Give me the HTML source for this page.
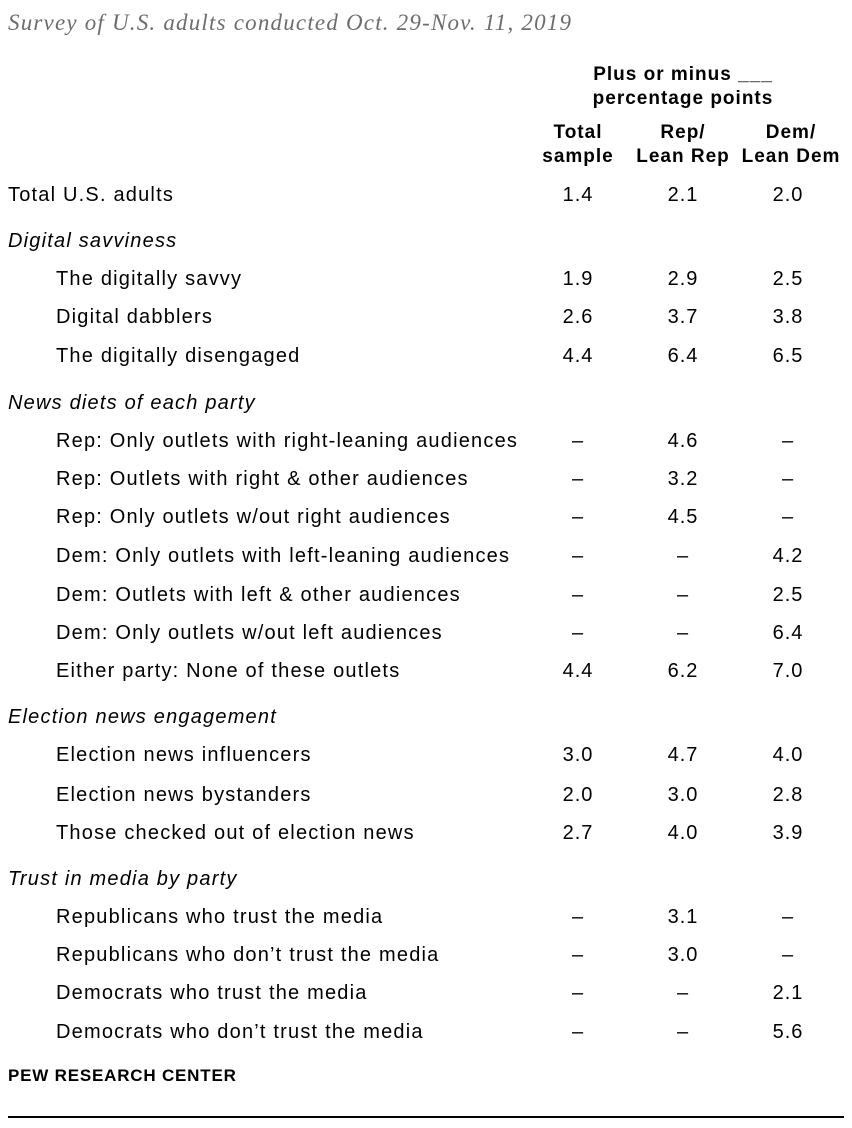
<!DOCTYPE html>
<html><head><meta charset="utf-8"><style>
body{margin:0;width:852px;height:1128px;background:#fff;position:relative;overflow:hidden;font-family:"Liberation Sans",sans-serif;color:#000}
div{position:absolute;white-space:nowrap}
.sub{left:8px;top:10px;font-family:"Liberation Serif",serif;font-style:italic;font-size:23px;letter-spacing:1.2px;color:#6d6d6d}
.h{font-weight:bold;font-size:19px;letter-spacing:1px;text-align:center;line-height:24px}
.r{font-size:20px;letter-spacing:1.2px;line-height:24px}
.c{width:100px;text-align:center;letter-spacing:1px}
.it{font-style:italic}
</style></head><body>
<div class="sub">Survey of U.S. adults conducted Oct. 29-Nov. 11, 2019</div>
<div class="h" style="left:533px;top:63px;width:300px">Plus or minus ___<br>percentage points</div>
<div class="h" style="left:528px;top:121px;width:100px">Total<br>sample</div>
<div class="h" style="left:626px;top:121px;width:114px">Rep/<br>Lean Rep</div>
<div class="h" style="left:734px;top:121px;width:114px">Dem/<br>Lean Dem</div>
<div id="rows"></div>
<div style="left:8px;top:1066px;font-weight:bold;font-size:17px;letter-spacing:0.8px">PEW RESEARCH CENTER</div>
<div style="left:8px;top:1116px;width:836px;height:2px;background:#000"></div>
<script>
const labels=[["Total U.S. adults",0,195],["Digital savviness",2,241],["The digitally savvy",1,279],["Digital dabblers",1,317],["The digitally disengaged",1,356],["News diets of each party",2,403],["Rep: Only outlets with right-leaning audiences",1,441],["Rep: Outlets with right & other audiences",1,479],["Rep: Only outlets w/out right audiences",1,517],["Dem: Only outlets with left-leaning audiences",1,556],["Dem: Outlets with left & other audiences",1,595],["Dem: Only outlets w/out left audiences",1,633],["Either party: None of these outlets",1,671],["Election news engagement",2,717],["Election news influencers",1,755],["Election news bystanders",1,795],["Those checked out of election news",1,833],["Trust in media by party",2,879],["Republicans who trust the media",1,917],["Republicans who don’t trust the media",1,955],["Democrats who trust the media",1,993],["Democrats who don’t trust the media",1,1032]];
const totalVals=["1.4",null,"1.9","2.6","4.4",null,"–","–","–","–","–","–","4.4",null,"3.0","2.0","2.7",null,"–","–","–","–"];
const repVals=["2.1",null,"2.9","3.7","6.4",null,"4.6","3.2","4.5","–","–","–","6.2",null,"4.7","3.0","4.0",null,"3.1","3.0","–","–"];
const demVals=["2.0",null,"2.5","3.8","6.5",null,"–","–","–","4.2","2.5","6.4","7.0",null,"4.0","2.8","3.9",null,"–","–","2.1","5.6"];
const colX=[528,633,738];
const rows=document.getElementById('rows');
labels.forEach((l,i)=>{
 const d=document.createElement('div');
 
 
 d.className='r'+(l[1]==2?' it':'');
 d.style.left=(l[1]==1?56:8)+'px';d.style.top=(l[2]-12)+'px';
 d.textContent=l[0];rows.appendChild(d);
 [totalVals,repVals,demVals].forEach((arr,j)=>{
  if(arr[i]==null)return;
  const c=document.createElement('div');
  
  
  c.className='r c';c.style.left=colX[j]+'px';c.style.top=(l[2]-12)+'px';
  c.textContent=arr[i];rows.appendChild(c);
 });
});
</script>
</body></html>
